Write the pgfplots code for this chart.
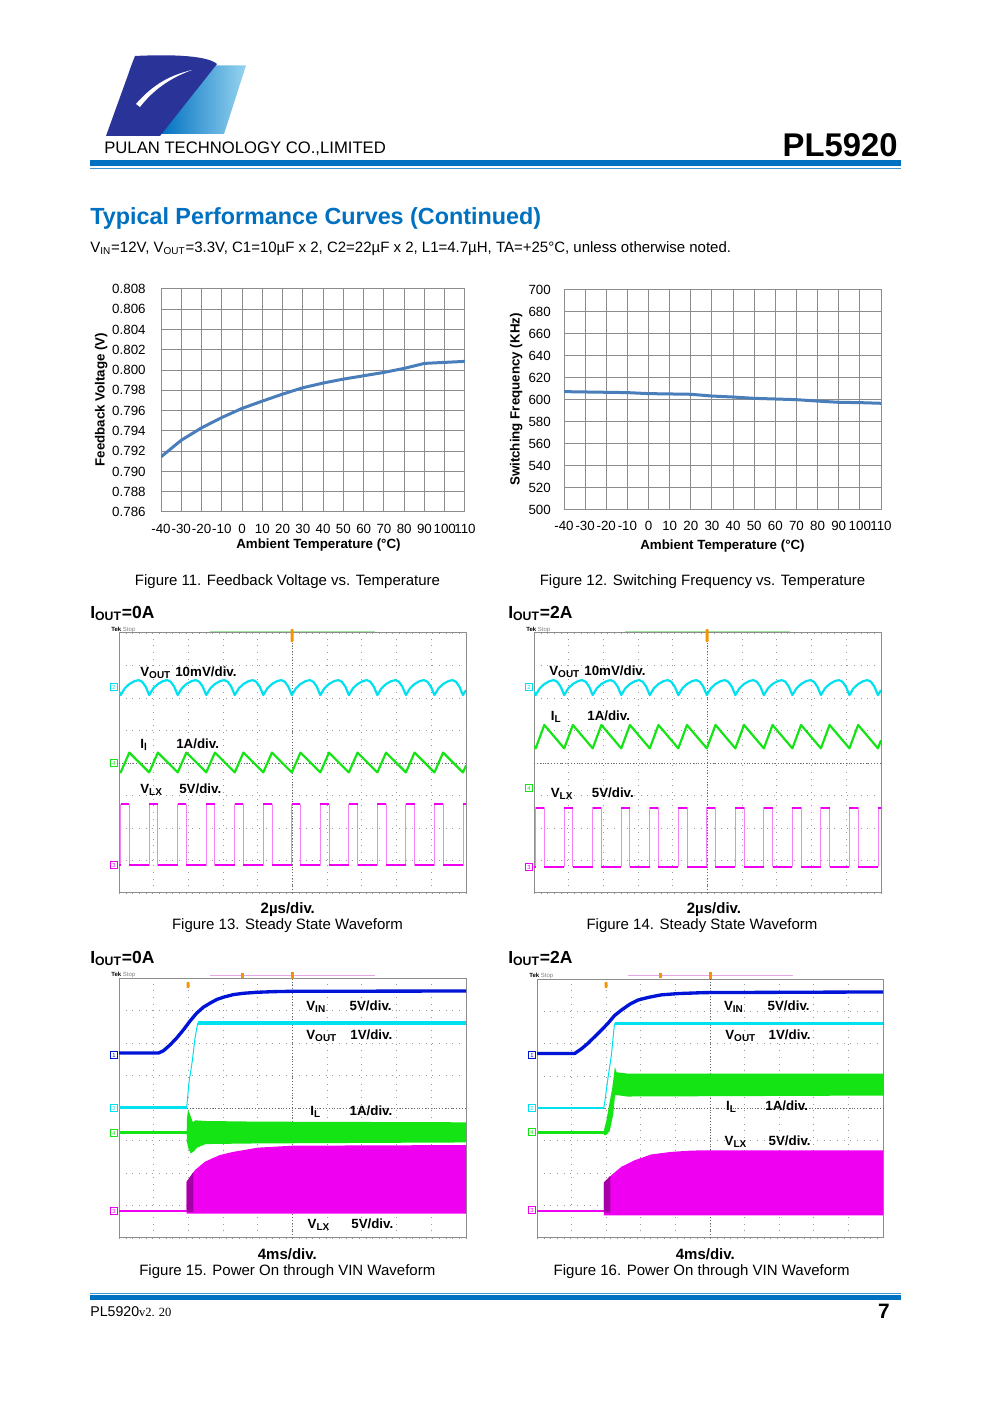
\documentclass[border=0pt]{standalone}
\usepackage{fontspec}
\setmainfont{Liberation Sans}
\newfontfamily\seriffont{Liberation Serif}
\usepackage{pgfplots}
\pgfplotsset{compat=1.18}
\usepackage{pgfplotstable}

\definecolor{pulanblue}{RGB}{0,112,192}
\definecolor{curveblue}{RGB}{74,126,187}
\definecolor{scyan}{RGB}{0,225,240}
\definecolor{sgreen}{RGB}{20,228,20}
\definecolor{smag}{RGB}{240,0,240}
\definecolor{spink}{RGB}{245,130,245}
\definecolor{smagdark}{RGB}{165,0,165}
\definecolor{sblue}{RGB}{0,20,215}
\definecolor{logodark}{RGB}{42,52,152}
\definecolor{logolight}{RGB}{150,212,240}
\definecolor{tekorange}{RGB}{240,150,0}
\definecolor{barGreen}{RGB}{160,228,160}
\definecolor{barPink}{RGB}{232,165,232}

\newcommand{\fs}[1]{\fontsize{#1}{#1}\selectfont}
\newcommand{\chmark}[4]{\node[draw=#3,fill=white,text=#3,font=\fs{3.5},inner sep=0.3pt,
  minimum width=4pt,minimum height=4pt] at (#1,-#2) {#4};}

% feedback voltage vs temperature
\pgfplotstableread{
t fb
-40 0.79144
-30 0.79308
-20 0.79430
-10 0.79532
0 0.79622
10 0.79694
20 0.79763
30 0.79826
40 0.79872
50 0.79911
60 0.79944
70 0.79977
80 0.80017
90 0.80066
100 0.80076
110 0.80086
}\fbtab

% switching frequency vs temperature
\pgfplotstableread{
t fsw
-40 607.6
-30 607.3
-20 607.0
-10 606.7
0 605.8
10 605.5
20 605.2
30 603.6
40 602.7
50 601.5
60 600.9
70 600.3
80 599.0
90 597.9
100 597.6
110 597.0
}\fswtab

% steady state traces, in scope divisions
\pgfplotstableread[row sep=\\]{
x y\\
0 6.20\\
0.048 6.09\\ 0.168 6.30\\ 0.298 6.43\\ 0.448 6.52\\ 0.568 6.55\\ 0.668 6.50\\ 0.768 6.35\\
0.870 6.09\\ 0.990 6.30\\ 1.120 6.43\\ 1.270 6.52\\ 1.390 6.55\\ 1.490 6.50\\ 1.590 6.35\\
1.692 6.09\\ 1.812 6.30\\ 1.942 6.43\\ 2.092 6.52\\ 2.212 6.55\\ 2.312 6.50\\ 2.412 6.35\\
2.514 6.09\\ 2.634 6.30\\ 2.764 6.43\\ 2.914 6.52\\ 3.034 6.55\\ 3.134 6.50\\ 3.234 6.35\\
3.336 6.09\\ 3.456 6.30\\ 3.586 6.43\\ 3.736 6.52\\ 3.856 6.55\\ 3.956 6.50\\ 4.056 6.35\\
4.158 6.09\\ 4.278 6.30\\ 4.408 6.43\\ 4.558 6.52\\ 4.678 6.55\\ 4.778 6.50\\ 4.878 6.35\\
4.980 6.09\\ 5.100 6.30\\ 5.230 6.43\\ 5.380 6.52\\ 5.500 6.55\\ 5.600 6.50\\ 5.700 6.35\\
5.802 6.09\\ 5.922 6.30\\ 6.052 6.43\\ 6.202 6.52\\ 6.322 6.55\\ 6.422 6.50\\ 6.522 6.35\\
6.624 6.09\\ 6.744 6.30\\ 6.874 6.43\\ 7.024 6.52\\ 7.144 6.55\\ 7.244 6.50\\ 7.344 6.35\\
7.446 6.09\\ 7.566 6.30\\ 7.696 6.43\\ 7.846 6.52\\ 7.966 6.55\\ 8.066 6.50\\ 8.166 6.35\\
8.268 6.09\\ 8.388 6.30\\ 8.518 6.43\\ 8.668 6.52\\ 8.788 6.55\\ 8.888 6.50\\ 8.988 6.35\\
9.090 6.09\\ 9.210 6.30\\ 9.340 6.43\\ 9.490 6.52\\ 9.610 6.55\\ 9.710 6.50\\ 9.810 6.35\\
9.912 6.09\\ 10 6.24\\
}\cyantab

\pgfplotstableread[row sep=\\]{
x g13 g14\\
0 3.76 4.52\\
0.048 3.71 4.45\\ 0.298 4.32 5.17\\
0.870 3.71 4.45\\ 1.120 4.32 5.17\\
1.692 3.71 4.45\\ 1.942 4.32 5.17\\
2.514 3.71 4.45\\ 2.764 4.32 5.17\\
3.336 3.71 4.45\\ 3.586 4.32 5.17\\
4.158 3.71 4.45\\ 4.408 4.32 5.17\\
4.980 3.71 4.45\\ 5.230 4.32 5.17\\
5.802 3.71 4.45\\ 6.052 4.32 5.17\\
6.624 3.71 4.45\\ 6.874 4.32 5.17\\
7.446 3.71 4.45\\ 7.696 4.32 5.17\\
8.268 3.71 4.45\\ 8.518 4.32 5.17\\
9.090 3.71 4.45\\ 9.340 4.32 5.17\\
9.912 3.71 4.45\\ 10 3.92 4.70\\
}\greentab

% switch node: full trace, and its flat levels (nan breaks the line)
\pgfplotstableread[row sep=\\]{
x m13 m14\\
0 0.86 0.81\\
0.048 0.86 0.81\\ 0.048 2.74 2.63\\ 0.298 2.74 2.63\\ 0.298 0.86 0.81\\
0.870 0.86 0.81\\ 0.870 2.74 2.63\\ 1.120 2.74 2.63\\ 1.120 0.86 0.81\\
1.692 0.86 0.81\\ 1.692 2.74 2.63\\ 1.942 2.74 2.63\\ 1.942 0.86 0.81\\
2.514 0.86 0.81\\ 2.514 2.74 2.63\\ 2.764 2.74 2.63\\ 2.764 0.86 0.81\\
3.336 0.86 0.81\\ 3.336 2.74 2.63\\ 3.586 2.74 2.63\\ 3.586 0.86 0.81\\
4.158 0.86 0.81\\ 4.158 2.74 2.63\\ 4.408 2.74 2.63\\ 4.408 0.86 0.81\\
4.980 0.86 0.81\\ 4.980 2.74 2.63\\ 5.230 2.74 2.63\\ 5.230 0.86 0.81\\
5.802 0.86 0.81\\ 5.802 2.74 2.63\\ 6.052 2.74 2.63\\ 6.052 0.86 0.81\\
6.624 0.86 0.81\\ 6.624 2.74 2.63\\ 6.874 2.74 2.63\\ 6.874 0.86 0.81\\
7.446 0.86 0.81\\ 7.446 2.74 2.63\\ 7.696 2.74 2.63\\ 7.696 0.86 0.81\\
8.268 0.86 0.81\\ 8.268 2.74 2.63\\ 8.518 2.74 2.63\\ 8.518 0.86 0.81\\
9.090 0.86 0.81\\ 9.090 2.74 2.63\\ 9.340 2.74 2.63\\ 9.340 0.86 0.81\\
9.912 0.86 0.81\\ 9.912 2.74 2.63\\ 10 2.74 2.63\\
}\magtab

\pgfplotstableread[row sep=\\]{
x m13 m14\\
0 0.86 0.81\\ 0.048 0.86 0.81\\ nan nan nan\\
0.048 2.74 2.63\\ 0.298 2.74 2.63\\ nan nan nan\\
0.298 0.86 0.81\\ 0.870 0.86 0.81\\ nan nan nan\\
0.870 2.74 2.63\\ 1.120 2.74 2.63\\ nan nan nan\\
1.120 0.86 0.81\\ 1.692 0.86 0.81\\ nan nan nan\\
1.692 2.74 2.63\\ 1.942 2.74 2.63\\ nan nan nan\\
1.942 0.86 0.81\\ 2.514 0.86 0.81\\ nan nan nan\\
2.514 2.74 2.63\\ 2.764 2.74 2.63\\ nan nan nan\\
2.764 0.86 0.81\\ 3.336 0.86 0.81\\ nan nan nan\\
3.336 2.74 2.63\\ 3.586 2.74 2.63\\ nan nan nan\\
3.586 0.86 0.81\\ 4.158 0.86 0.81\\ nan nan nan\\
4.158 2.74 2.63\\ 4.408 2.74 2.63\\ nan nan nan\\
4.408 0.86 0.81\\ 4.980 0.86 0.81\\ nan nan nan\\
4.980 2.74 2.63\\ 5.230 2.74 2.63\\ nan nan nan\\
5.230 0.86 0.81\\ 5.802 0.86 0.81\\ nan nan nan\\
5.802 2.74 2.63\\ 6.052 2.74 2.63\\ nan nan nan\\
6.052 0.86 0.81\\ 6.624 0.86 0.81\\ nan nan nan\\
6.624 2.74 2.63\\ 6.874 2.74 2.63\\ nan nan nan\\
6.874 0.86 0.81\\ 7.446 0.86 0.81\\ nan nan nan\\
7.446 2.74 2.63\\ 7.696 2.74 2.63\\ nan nan nan\\
7.696 0.86 0.81\\ 8.268 0.86 0.81\\ nan nan nan\\
8.268 2.74 2.63\\ 8.518 2.74 2.63\\ nan nan nan\\
8.518 0.86 0.81\\ 9.090 0.86 0.81\\ nan nan nan\\
9.090 2.74 2.63\\ 9.340 2.74 2.63\\ nan nan nan\\
9.340 0.86 0.81\\ 9.912 0.86 0.81\\ nan nan nan\\
9.912 2.74 2.63\\ 10 2.74 2.63\\
}\magflat

\pgfplotsset{
  chartax/.style={scale only axis, anchor=north west,
    xmin=-40, xmax=110, xtick={-40,-30,...,110},
    grid=major, major grid style={black!45, line width=0.6pt},
    axis line style={black!45, line width=0.6pt},
    major tick length=0pt, scaled y ticks=false,
    tick label style={font=\fs{8}},
    /pgf/number format/assume math mode=true,
    label style={font=\fs{8}\bfseries}},
  scopeax/.style={scale only axis, anchor=north west,
    xmin=0, xmax=10, ymin=0, ymax=8,
    xtick={0,1,...,10}, ytick={0,1,...,8},
    xticklabels={}, yticklabels={}, major tick length=0pt,
    grid=major,
    major grid style={black!40, line width=0.5pt, dash pattern=on 0.5pt off 3.5pt},
    axis line style={black!45, line width=0.6pt},
    extra x ticks={5}, extra y ticks={4},
    extra x tick labels={}, extra y tick labels={},
    extra tick style={major grid style={black!60, line width=0.5pt, dash pattern=on 0.5pt off 1.2pt}},
    unbounded coords=jump, line join=round}
}

\begin{document}
\begin{tikzpicture}[x=0.6pt,y=0.6pt]
\useasboundingbox (0,0) rectangle (993,-1403);
\fill[white] (0,0) rectangle (993,-1403);

% ---- header
\shade[left color=pulanblue, right color=logolight] (188,-65.5) -- (246,-65.5) -- (224,-134) -- (160,-134) -- cycle;
\fill[logodark] (135,-56) .. controls (175,-54) and (208,-56) .. (217,-64)
  -- (160,-136) -- (106,-136) -- (128,-75) .. controls (131,-66) and (133,-61) .. (135,-56) -- cycle;
\fill[white] (136,-104) .. controls (150,-88) and (166,-76) .. (192,-70)
  .. controls (170,-78) and (153,-90) .. (140,-107) -- cycle;
\node[anchor=base west,inner sep=0,font=\fs{10}] at (104,-154) {PULAN TECHNOLOGY CO.,LIMITED};
\node[anchor=base east,inner sep=0,font=\fs{19.7}\bfseries] at (898,-157) {PL5920};
\fill[pulanblue] (90,-160.5) rectangle (901,-166);
\fill[pulanblue!75] (90,-168) rectangle (901,-169.5);

\node[anchor=base west,inner sep=0,font=\fs{14}\bfseries,text=pulanblue] at (90,-225) {Typical Performance Curves (Continued)};
\node[anchor=base west,inner sep=0,font=\fs{9}] at (90,-253) {V\textsubscript{IN}=12V, V\textsubscript{OUT}=3.3V, C1=10µF x 2, C2=22µF x 2, L1=4.7µH, TA=+25°C, unless otherwise noted.};

% ---- Figure 11
\begin{axis}[chartax, at={(96.6pt,-173.4pt)}, width=182.4pt, height=133.8pt,
  ymin=0.786, ymax=0.808,
  ytick={0.786,0.788,0.790,0.792,0.794,0.796,0.798,0.800,0.802,0.804,0.806,0.808},
  yticklabel style={/pgf/number format/fixed, /pgf/number format/fixed zerofill,
    /pgf/number format/precision=3, xshift=-5.7pt},
  xticklabel style={yshift=-4pt},
  xlabel={Ambient Temperature (°C)}, ylabel={Feedback Voltage (V)},
  xlabel style={at={(axis description cs:0.518,-0.148)}, anchor=center},
  ylabel style={at={(axis description cs:-0.197,0.504)}, anchor=center}]
\addplot[curveblue, line width=1.8pt, no markers] table[x=t, y=fb] {\fbtab};
\end{axis}
\node[anchor=base,inner sep=0,font=\fs{9}] at (287.5,-585) {Figure 11. Feedback Voltage vs. Temperature};

% ---- Figure 12
\begin{axis}[chartax, at={(338.4pt,-174pt)}, width=190.2pt, height=132pt,
  ymin=500, ymax=700, ytick={500,520,...,700},
  yticklabel style={xshift=-4.4pt},
  xticklabel style={yshift=-3.3pt},
  xlabel={Ambient Temperature (°C)}, ylabel={Switching Frequency (KHz)},
  xlabel style={at={(axis description cs:0.5,-0.164)}, anchor=center},
  ylabel style={at={(axis description cs:-0.151,0.502)}, anchor=center}]
\addplot[curveblue, line width=1.8pt, no markers] table[x=t, y=fsw] {\fswtab};
\end{axis}
\node[anchor=base,inner sep=0,font=\fs{9}] at (702.5,-585) {Figure 12. Switching Frequency vs. Temperature};

% ---- Figure 13
\node[anchor=base west,inner sep=0,font=\fs{10.5}\bfseries] at (90,-618) {I\textsubscript{OUT}=0A};
\begin{axis}[scopeax, at={(71.4pt,-379.8pt)}, width=208.2pt, height=156pt]
\addplot[scyan, line width=1.3pt, no markers] table[x=x, y=y] {\cyantab};
\addplot[sgreen, line width=1.3pt, no markers] table[x=x, y=g13] {\greentab};
\addplot[spink, line width=0.5pt, no markers] table[x=x, y=m13] {\magtab};
\addplot[smag, line width=1.2pt, no markers] table[x=x, y=m13] {\magflat};
\end{axis}
\node[anchor=base west,inner sep=0,font=\fs{3.6}] at (111,-631.5) {\textbf{Tek} \textcolor{black!50}{Stop}};
\draw[barGreen, line width=0.5pt] (210,-631) -- (375,-631);
\fill[tekorange, rounded corners=0.5pt] (290.5,-629) rectangle (293.5,-642);
\chmark{114}{687}{scyan}{2}
\chmark{114}{763}{sgreen}{4}
\chmark{114}{865}{smag}{3}
\node[anchor=base west,inner sep=0,font=\fs{8}\bfseries] at (140,-676) {V\textsubscript{OUT}};
\node[anchor=base west,inner sep=0,font=\fs{8}\bfseries] at (175,-676) {10mV/div.};
\node[anchor=base west,inner sep=0,font=\fs{8}\bfseries] at (140,-748) {I\textsubscript{l}};
\node[anchor=base west,inner sep=0,font=\fs{8}\bfseries] at (176,-748) {1A/div.};
\node[anchor=base west,inner sep=0,font=\fs{8}\bfseries] at (140,-793) {V\textsubscript{LX}};
\node[anchor=base west,inner sep=0,font=\fs{8}\bfseries] at (179,-793) {5V/div.};
\node[anchor=base,inner sep=0,font=\fs{9}\bfseries] at (287.8,-913) {2µs/div.};
\node[anchor=base,inner sep=0,font=\fs{9}] at (287.5,-929.5) {Figure 13. Steady State Waveform};

% ---- Figure 14
\node[anchor=base west,inner sep=0,font=\fs{10.5}\bfseries] at (508,-618) {I\textsubscript{OUT}=2A};
\begin{axis}[scopeax, at={(320.4pt,-379.8pt)}, width=208.2pt, height=156pt]
\addplot[scyan, line width=1.3pt, no markers] table[x=x, y=y] {\cyantab};
\addplot[sgreen, line width=1.3pt, no markers] table[x=x, y=g14] {\greentab};
\addplot[spink, line width=0.5pt, no markers] table[x=x, y=m14] {\magtab};
\addplot[smag, line width=1.2pt, no markers] table[x=x, y=m14] {\magflat};
\end{axis}
\node[anchor=base west,inner sep=0,font=\fs{3.6}] at (526,-631.5) {\textbf{Tek} \textcolor{black!50}{Stop}};
\draw[barGreen, line width=0.5pt] (625,-631) -- (790,-631);
\fill[tekorange, rounded corners=0.5pt] (705.5,-629) rectangle (708.5,-642);
\chmark{529}{687}{scyan}{2}
\chmark{529}{788}{sgreen}{4}
\chmark{529}{867}{smag}{3}
\node[anchor=base west,inner sep=0,font=\fs{8}\bfseries] at (549,-675) {V\textsubscript{OUT}};
\node[anchor=base west,inner sep=0,font=\fs{8}\bfseries] at (584,-675) {10mV/div.};
\node[anchor=base west,inner sep=0,font=\fs{8}\bfseries] at (550.5,-720) {I\textsubscript{L}};
\node[anchor=base west,inner sep=0,font=\fs{8}\bfseries] at (587,-720) {1A/div.};
\node[anchor=base west,inner sep=0,font=\fs{8}\bfseries] at (550.5,-797) {V\textsubscript{LX}};
\node[anchor=base west,inner sep=0,font=\fs{8}\bfseries] at (591.5,-797) {5V/div.};
\node[anchor=base,inner sep=0,font=\fs{9}\bfseries] at (714,-913) {2µs/div.};
\node[anchor=base,inner sep=0,font=\fs{9}] at (702,-929.5) {Figure 14. Steady State Waveform};

% ---- Figure 15
\node[anchor=base west,inner sep=0,font=\fs{10.5}\bfseries] at (90,-963) {I\textsubscript{OUT}=0A};
\begin{axis}[scopeax, at={(71.4pt,-586.8pt)}, width=208.2pt, height=156pt]
% VLX envelope
\addplot[fill=smag, draw=none] coordinates {(1.95,0.75) (1.95,1.73) (2.19,2.09) (2.48,2.35) (2.9,2.55) (3.29,2.65) (4.0,2.78) (5.0,2.84) (10,2.86) (10,0.75)};
\addplot[fill=smagdark, draw=none] coordinates {(1.95,0.80) (1.95,1.73) (2.14,2.02) (2.14,0.80)};
\addplot[smag, line width=1.4pt, no markers] coordinates {(0,0.83) (1.95,0.83)};
% IL envelope
\addplot[fill=sgreen, draw=none] coordinates {(1.95,3.24) (1.96,3.70) (1.99,3.94) (2.03,3.85) (2.08,3.70) (2.13,3.56) (2.2,3.62) (2.5,3.60) (4,3.58) (10,3.56)
  (10,2.94) (4,2.91) (2.5,2.89) (2.25,2.78) (2.15,2.66) (2.07,2.60) (2.0,2.75) (1.96,2.95)};
\addplot[sgreen, line width=1.6pt, no markers] coordinates {(0,3.24) (1.95,3.24)};
% VOUT
\addplot[scyan, line width=1.6pt, no markers] coordinates {(0,4.01) (1.95,4.01)};
\addplot[scyan, line width=0.6pt, no markers] coordinates {(1.95,4.01) (2.02,4.81) (2.11,5.43) (2.19,6.15) (2.27,6.62)};
\addplot[scyan, line width=2pt, no markers] coordinates {(2.27,6.62) (10,6.62)};
% VIN
\addplot[sblue, line width=2pt, no markers] coordinates {(0,5.69) (1.135,5.69) (1.28,5.76) (1.47,5.94) (1.66,6.15) (1.86,6.41) (2.05,6.68) (2.24,6.92) (2.43,7.10) (2.63,7.23) (2.82,7.34) (3.01,7.41) (3.30,7.49) (3.59,7.53) (3.97,7.56) (4.45,7.58) (4.93,7.59) (10,7.60)};
\end{axis}
\node[anchor=base west,inner sep=0,font=\fs{3.6}] at (111,-976.5) {\textbf{Tek} \textcolor{black!50}{Stop}};
\draw[barPink, line width=0.5pt] (210,-975.5) -- (375,-975.5);
\fill[tekorange] (241,-973) rectangle (243.5,-978);
\fill[tekorange] (291,-972) rectangle (293.5,-979);
\fill[tekorange, rounded corners=0.5pt] (186.5,-982) rectangle (189.5,-988);
\chmark{114}{1055}{sblue}{1}
\chmark{114}{1108}{scyan}{2}
\chmark{114}{1133}{sgreen}{4}
\chmark{114}{1211}{smag}{3}
\node[anchor=base west,inner sep=0,font=\fs{8}\bfseries] at (306,-1010) {V\textsubscript{IN}};
\node[anchor=base west,inner sep=0,font=\fs{8}\bfseries] at (349.3,-1010) {5V/div.};
\node[anchor=base west,inner sep=0,font=\fs{8}\bfseries] at (306,-1039) {V\textsubscript{OUT}};
\node[anchor=base west,inner sep=0,font=\fs{8}\bfseries] at (350,-1039) {1V/div.};
\node[anchor=base west,inner sep=0,font=\fs{8}\bfseries] at (310,-1115.7) {I\textsubscript{L}};
\node[anchor=base west,inner sep=0,font=\fs{8}\bfseries] at (349.3,-1115.7) {1A/div.};
\node[anchor=base west,inner sep=0,font=\fs{8}\bfseries] at (307.3,-1228.3) {V\textsubscript{LX}};
\node[anchor=base west,inner sep=0,font=\fs{8}\bfseries] at (351,-1228.3) {5V/div.};
\node[anchor=base,inner sep=0,font=\fs{9}\bfseries] at (287.3,-1259) {4ms/div.};
\node[anchor=base,inner sep=0,font=\fs{9}] at (287.3,-1275) {Figure 15. Power On through VIN Waveform};

% ---- Figure 16
\node[anchor=base west,inner sep=0,font=\fs{10.5}\bfseries] at (508,-963) {I\textsubscript{OUT}=2A};
\begin{axis}[scopeax, at={(322.2pt,-587.4pt)}, width=207.6pt, height=155.4pt]
% VLX envelope
\addplot[fill=smag, draw=none] coordinates {(1.93,0.70) (1.93,1.71) (2.15,1.94) (2.44,2.20) (2.82,2.40) (3.30,2.58) (3.88,2.66) (4.46,2.70) (5.0,2.71) (10,2.71) (10,0.70)};
\addplot[fill=smagdark, draw=none] coordinates {(1.93,0.78) (1.93,1.71) (2.12,1.92) (2.12,0.78)};
\addplot[smag, line width=1.4pt, no markers] coordinates {(0,0.835) (1.93,0.835)};
% IL envelope
\addplot[fill=sgreen, draw=none] coordinates {(1.93,3.25) (1.95,3.40) (2.0,3.60) (2.1,4.2) (2.17,4.6) (2.22,5.0) (2.25,5.28) (2.3,5.12) (2.6,5.08) (10,5.08)
  (10,4.40) (2.6,4.37) (2.27,4.42) (2.25,4.35) (2.2,3.8) (2.1,3.3) (2.0,3.18) (1.93,3.18)};
\addplot[sgreen, line width=1.6pt, no markers] coordinates {(0,3.25) (1.93,3.25)};
% VOUT
\addplot[scyan, line width=1.6pt, no markers] coordinates {(0,4.02) (1.93,4.02)};
\addplot[scyan, line width=0.6pt, no markers] coordinates {(1.93,4.02) (1.96,4.21) (2.05,4.93) (2.15,5.65) (2.24,6.63)};
\addplot[scyan, line width=2pt, no markers] coordinates {(2.24,6.63) (10,6.63)};
% VIN
\addplot[sblue, line width=2pt, no markers] coordinates {(0,5.70) (1.09,5.70) (1.28,5.84) (1.47,6.01) (1.67,6.22) (1.86,6.42) (2.05,6.63) (2.24,6.87) (2.44,7.04) (2.68,7.22) (2.92,7.35) (3.21,7.43) (3.59,7.51) (4.08,7.55) (4.85,7.58) (10,7.60)};
\end{axis}
\node[anchor=base west,inner sep=0,font=\fs{3.6}] at (529,-977) {\textbf{Tek} \textcolor{black!50}{Stop}};
\draw[barPink, line width=0.5pt] (628,-975.5) -- (793,-975.5);
\fill[tekorange] (659,-973) rectangle (661.5,-978);
\fill[tekorange] (709,-972) rectangle (711.5,-979);
\fill[tekorange, rounded corners=0.5pt] (604.5,-982) rectangle (607.5,-988);
\chmark{532}{1055}{sblue}{1}
\chmark{532}{1108}{scyan}{2}
\chmark{532}{1132}{sgreen}{4}
\chmark{532}{1210}{smag}{3}
\node[anchor=base west,inner sep=0,font=\fs{8}\bfseries] at (723.7,-1010) {V\textsubscript{IN}};
\node[anchor=base west,inner sep=0,font=\fs{8}\bfseries] at (767.3,-1010) {5V/div.};
\node[anchor=base west,inner sep=0,font=\fs{8}\bfseries] at (725,-1039) {V\textsubscript{OUT}};
\node[anchor=base west,inner sep=0,font=\fs{8}\bfseries] at (768.3,-1039) {1V/div.};
\node[anchor=base west,inner sep=0,font=\fs{8}\bfseries] at (725.7,-1110.7) {I\textsubscript{L}};
\node[anchor=base west,inner sep=0,font=\fs{8}\bfseries] at (765,-1110.7) {1A/div.};
\node[anchor=base west,inner sep=0,font=\fs{8}\bfseries] at (724.3,-1145) {V\textsubscript{LX}};
\node[anchor=base west,inner sep=0,font=\fs{8}\bfseries] at (768.3,-1145) {5V/div.};
\node[anchor=base,inner sep=0,font=\fs{9}\bfseries] at (705.3,-1259) {4ms/div.};
\node[anchor=base,inner sep=0,font=\fs{9}] at (701.7,-1275) {Figure 16. Power On through VIN Waveform};

% ---- footer
\fill[pulanblue!75] (90,-1292.5) rectangle (901,-1294);
\fill[pulanblue] (90,-1295) rectangle (901,-1300);
\node[anchor=base west,inner sep=0,font=\fs{8.5}] at (90,-1316) {PL5920{\seriffont\fs{7.5}v2. 20}};
\node[anchor=base east,inner sep=0,font=\fs{12.5}\bfseries] at (890,-1318) {7};
\end{tikzpicture}
\end{document}
